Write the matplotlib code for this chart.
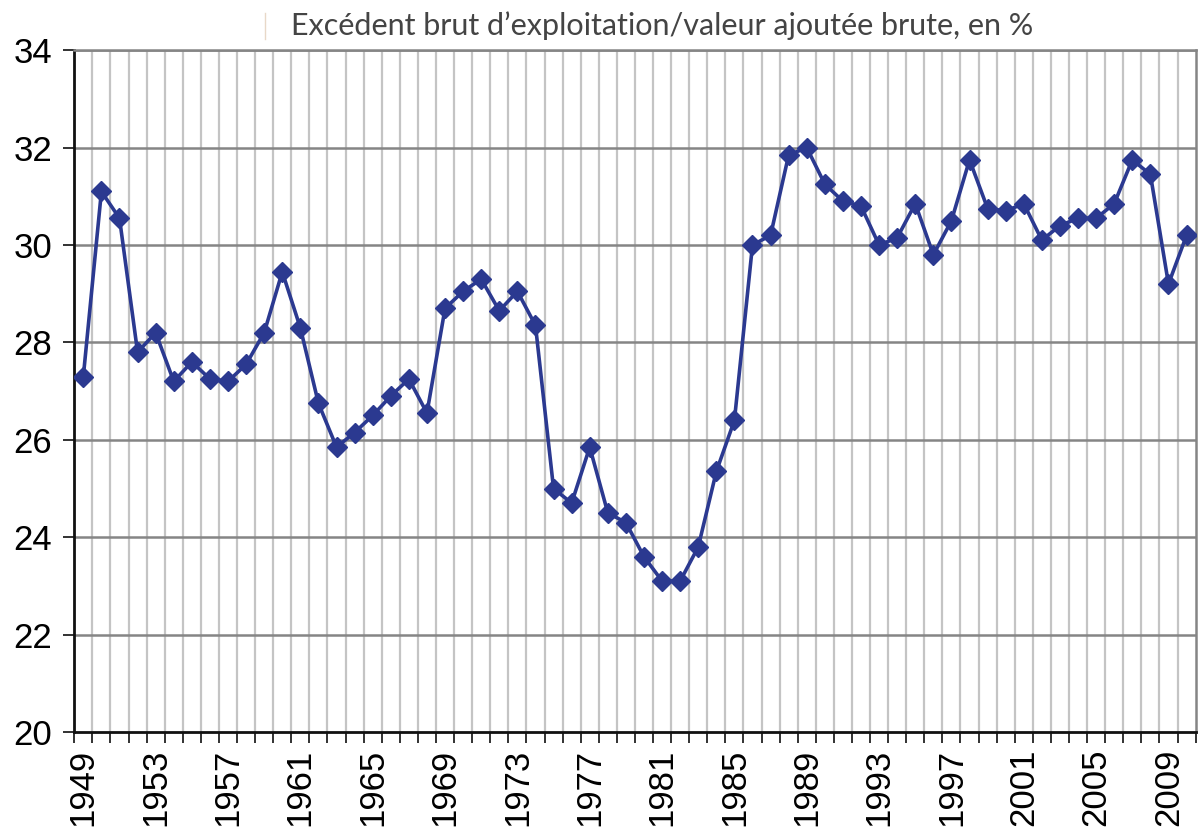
import numpy as np
import matplotlib
matplotlib.use("Agg")
import matplotlib.pyplot as plt
from matplotlib.ticker import MultipleLocator, FixedLocator

years = list(range(1949, 2011))
ebe_va = [27.3, 31.1, 30.55, 27.8, 28.2, 27.2, 27.6, 27.25, 27.2, 27.55,
          28.2, 29.45, 28.3, 26.75, 25.85, 26.15, 26.5, 26.9, 27.25, 26.55,
          28.7, 29.05, 29.3, 28.65, 29.05, 28.35, 25.0, 24.7, 25.85, 24.5,
          24.3, 23.6, 23.1, 23.1, 23.8, 25.35, 26.4, 30.0, 30.2, 31.85,
          32.0, 31.25, 30.9, 30.8, 30.0, 30.15, 30.85, 29.8, 30.5, 31.75,
          30.75, 30.7, 30.85, 30.1, 30.4, 30.55, 30.55, 30.85, 31.75, 31.45,
          29.2, 30.2]
label_years = list(range(1949, 2011, 4))
title = "Excédent brut d\u2019exploitation/valeur ajoutée brute, en %"

plt.rcParams['font.family'] = ['Liberation Sans', 'DejaVu Sans']

fig = plt.figure(figsize=(11.98, 8.38), dpi=100)
ax = fig.add_axes([0.062, 0.1265, 0.936, 0.8135])

# grid: vertical lines between categories, horizontal every 2
bounds = np.arange(1948.5, 2011, 1)
for b in bounds[1:-1]:
    ax.axvline(b, color='#c4c4c4', lw=1.6, zorder=0)
for v in range(22, 35, 2):
    ax.axhline(v, color='#858585', lw=1.8, zorder=0)

ax.plot(years, ebe_va, color='#2B3990', lw=2.6, marker='D', markersize=10,
        markeredgecolor='#2B3990', zorder=3)

ax.set_xlim(1948.5, 2010.5)
ax.set_ylim(20, 34)
ax.yaxis.set_major_locator(MultipleLocator(2))
ax.set_xticks(label_years)
ax.set_xticklabels([str(y) for y in label_years], rotation=90)
ax.xaxis.set_minor_locator(FixedLocator(bounds))
ax.tick_params(axis='x', which='major', length=0, pad=12, labelsize=25)
ax.tick_params(axis='x', which='minor', length=8, width=1.3, color='#222222')
ax.tick_params(axis='y', length=8, width=1.3, pad=8, labelsize=25, color='#222222')

for side in ['left', 'bottom']:
    ax.spines[side].set_color('#111111')
    ax.spines[side].set_linewidth(2)
for side in ['top', 'right']:
    ax.spines[side].set_color('#858585')
    ax.spines[side].set_linewidth(1.8)

fig.text(0.243, 0.970, title, fontsize=22, color='#444444', family=['Lato', 'DejaVu Sans'],
         ha='left', va='center')
fig.add_artist(plt.Line2D([0.2215, 0.2215], [0.953, 0.985], color='#e8d8c8', lw=1))

fig.savefig("out.png", dpi=100)
